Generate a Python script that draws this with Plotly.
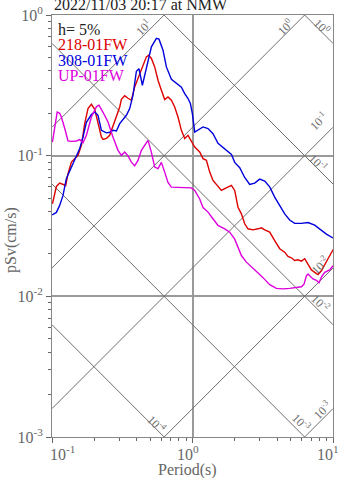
import numpy as np
import plotly.graph_objects as go

# ---- response spectra (period in s, pseudo velocity in cm/s) ----
red_period = [0.1007, 0.1075, 0.1134, 0.1198, 0.1252, 0.130, 0.1374, 0.1451, 0.1531, 0.162,
              0.1709, 0.1804, 0.1907, 0.2013, 0.2125, 0.2247, 0.2307, 0.2439, 0.2575, 0.2718,
              0.2874, 0.3034, 0.3119, 0.3292, 0.3474, 0.3673, 0.3877, 0.4093, 0.4442, 0.4696,
              0.4878, 0.5099, 0.5383, 0.5681, 0.6006, 0.634, 0.6692, 0.7075, 0.7468, 0.7883,
              0.8337, 0.880, 0.929, 0.982, 1.037, 1.125, 1.188, 1.256, 1.326, 1.399,
              1.519, 1.606, 1.695, 1.789, 1.892, 1.997, 2.108, 2.229, 2.352, 2.483,
              2.695, 2.925, 3.093, 3.265, 3.544, 3.846, 4.175, 4.532, 4.783, 5.057,
              5.339, 5.635, 5.958, 6.29, 6.637, 7.019, 7.409, 7.819, 8.266, 8.728,
              9.213, 9.90, 10.0]
red_sv = [0.0455, 0.0604, 0.0638, 0.0625, 0.0614, 0.0744, 0.0900, 0.0952, 0.1005, 0.1184,
          0.169, 0.2162, 0.2319, 0.2137, 0.169, 0.1357, 0.1306, 0.1328, 0.1395, 0.1643,
          0.1883, 0.2219, 0.2518, 0.2667, 0.2559, 0.2476, 0.308, 0.3535, 0.4277, 0.504,
          0.518, 0.4908, 0.4277, 0.3439, 0.2918, 0.2505, 0.2615, 0.2476, 0.2219, 0.1883,
          0.1514, 0.1322, 0.1395, 0.125, 0.1151, 0.1064, 0.0952, 0.0926, 0.0764, 0.0667,
          0.0598, 0.0566, 0.0582, 0.0598, 0.0614, 0.0566, 0.0430, 0.0386, 0.0328, 0.0302,
          0.0297, 0.0302, 0.0307, 0.0297, 0.0286, 0.0249, 0.0218, 0.0206, 0.0192, 0.0188,
          0.0180, 0.0182, 0.0178, 0.0185, 0.0170, 0.0154, 0.0148, 0.0143, 0.0152, 0.0170,
          0.0185, 0.0210, 0.0215]

blue_period = [0.1003, 0.1075, 0.1134, 0.1198, 0.1266, 0.1374, 0.1492, 0.1575, 0.1662, 0.1757,
               0.1907, 0.2013, 0.2125, 0.2247, 0.2439, 0.2575, 0.2718, 0.2874, 0.3034, 0.3202,
               0.3384, 0.3573, 0.3771, 0.3987, 0.416, 0.4398, 0.4696, 0.5099, 0.5535, 0.5775,
               0.6166, 0.6519, 0.7075, 0.7679, 0.8337, 0.880, 0.929, 0.966, 0.998, 1.037,
               1.094, 1.188, 1.290, 1.399, 1.519, 1.648, 1.789, 1.892, 1.997, 2.168,
               2.352, 2.553, 2.771, 3.008, 3.265, 3.544, 3.846, 4.175, 4.532, 4.918,
               5.339, 5.958, 6.637, 7.409, 8.266, 8.974, 10.0]
blue_sv = [0.0379, 0.0395, 0.0443, 0.0522, 0.0689, 0.0829, 0.0977, 0.1122, 0.1357, 0.1726,
           0.1959, 0.2044, 0.1936, 0.1514, 0.1453, 0.1466, 0.1514, 0.1497, 0.169, 0.1799,
           0.1936, 0.2162, 0.2689, 0.3984, 0.415, 0.3167, 0.4277, 0.5935, 0.6814, 0.6736,
           0.5623, 0.4277, 0.3496, 0.3257, 0.3066, 0.2765, 0.2547, 0.2346, 0.1991, 0.1473,
           0.1514, 0.16, 0.1557, 0.1434, 0.1224, 0.114, 0.1078, 0.1022, 0.0896, 0.0821,
           0.07, 0.0625, 0.0638, 0.0681, 0.0659, 0.06, 0.0507, 0.0443, 0.0386, 0.0349,
           0.033, 0.033, 0.0335, 0.0321, 0.0296, 0.0277, 0.026]

up_period = [0.1007, 0.1045, 0.1089, 0.1134, 0.1166, 0.1231, 0.130, 0.1374, 0.1492, 0.1575,
             0.1662, 0.1757, 0.1907, 0.207, 0.216, 0.2307, 0.2504, 0.2718, 0.295, 0.3119,
             0.3292, 0.3474, 0.3673, 0.3877, 0.4093, 0.4327, 0.4696, 0.4822, 0.5099, 0.5383,
             0.5681, 0.6006, 0.634, 0.6692, 0.7075, 0.7883, 0.9049, 0.982, 1.037, 1.125,
             1.188, 1.290, 1.399, 1.519, 1.695, 1.840, 1.997, 2.108, 2.229, 2.418,
             2.625, 2.849, 3.008, 3.265, 3.544, 3.955, 4.407, 4.918, 5.489, 5.958,
             6.218, 6.467, 6.637, 6.826, 7.206, 7.618, 7.948, 8.266, 8.728, 9.475, 10.0]
up_sv = [0.125, 0.1565, 0.2044, 0.2001, 0.1883, 0.1565, 0.1274, 0.1264, 0.1271, 0.13,
         0.1234, 0.1395, 0.1883, 0.2226, 0.2282, 0.2034, 0.1735, 0.135, 0.1091, 0.1005,
         0.1061, 0.0997, 0.09, 0.0846, 0.0926, 0.1091, 0.125, 0.1285, 0.1055, 0.0829,
         0.0808, 0.0896, 0.0764, 0.0645, 0.0598, 0.0594, 0.059, 0.059, 0.0566, 0.0492,
         0.0428, 0.0397, 0.0356, 0.0319, 0.0302, 0.0286, 0.0255, 0.0223, 0.0195, 0.0175,
         0.0163, 0.0152, 0.0143, 0.0132, 0.0121, 0.0114, 0.0113, 0.0114, 0.0116, 0.0117,
         0.0122, 0.014, 0.0144, 0.014, 0.0133, 0.013, 0.0125, 0.0137, 0.0148, 0.0154, 0.0165]

series_names = ["218-01FW", "308-01FW", "UP-01FW"]
series_colors = ["#dd0000", "#0000dd", "#dd00dd"]

# tripartite guide levels: acceleration (cm/s^2) and displacement (cm)
accel_levels = [1e1, 1e0, 1e-1, 1e-2, 1e-3]
disp_levels = [1e0, 1e-1, 1e-2, 1e-3, 1e-4]

x_major = [0.1, 1.0, 10.0]
y_major = [0.001, 0.01, 0.1, 1.0]

title_text = "2022/11/03 20:17 at NMW"
damping_text = "h= 5%"

T_MIN, T_MAX = 0.1, 10.0
SV_MIN, SV_MAX = 1e-3, 1.0

FONT = "Liberation Serif, Times New Roman, serif"
GRID = "#9a9a9a"
GUIDE = "#6e6e6e"
TEXT_GRAY = "#666666"

PLOT_W, PLOT_H = 281, 422  # plot-area size in px (used for paper offsets)

fig = go.Figure()

two_pi = 2 * np.pi
t_ends = np.array([T_MIN, T_MAX])
lg2pi = np.log10(two_pi)


def sup_label(v):
    e = int(round(np.log10(v)))
    return f"10<sup>{e}</sup>"


# constant-acceleration lines: Sv = A*T/(2*pi)
for a in accel_levels:
    fig.add_trace(go.Scatter(x=t_ends, y=a * t_ends / two_pi, mode="lines",
                             line=dict(color=GUIDE, width=1), hoverinfo="skip",
                             showlegend=False))
# constant-displacement lines: Sv = 2*pi*D/T
for d in disp_levels:
    fig.add_trace(go.Scatter(x=t_ends, y=two_pi * d / t_ends, mode="lines",
                             line=dict(color=GUIDE, width=1), hoverinfo="skip",
                             showlegend=False))

# spectra
for per, sv, nm, col in zip([red_period, blue_period, up_period],
                            [red_sv, blue_sv, up_sv], series_names, series_colors):
    fig.add_trace(go.Scatter(x=per, y=sv, mode="lines", name=nm,
                             line=dict(color=col, width=1.4), showlegend=False))

annotations = []

# guide labels, placed near where each line leaves the frame
lx0, lx1 = np.log10(T_MIN), np.log10(T_MAX)
ly0, ly1 = np.log10(SV_MIN), np.log10(SV_MAX)
accel_shift = [(-21, -12), (-20, -12), (-15, 6), (-13, 2), (-11, -2)]
disp_shift = [(-11, 17), (-15, 22), (-13, 22), (-3, 15), (-7, 13)]
for a, (dx, dy) in zip(accel_levels, accel_shift):
    la = np.log10(a)
    xe = min(lx1, ly1 - la + lg2pi)
    ye = la + xe - lg2pi
    annotations.append(dict(x=xe, y=ye, xref="x", yref="y", text=sup_label(a),
                            showarrow=False, textangle=-45, xshift=dx, yshift=dy,
                            font=dict(family=FONT, size=12, color=GUIDE)))
for d, (dx, dy) in zip(disp_levels, disp_shift):
    ld = np.log10(d)
    ye = ld + lg2pi - lx1
    xe = lx1
    if ye < ly0:
        ye = ly0
        xe = ld + lg2pi - ly0
    annotations.append(dict(x=xe, y=ye, xref="x", yref="y", text=sup_label(d),
                            showarrow=False, textangle=45, xshift=dx, yshift=dy,
                            font=dict(family=FONT, size=12, color=GUIDE)))

# period tick labels (drawn as text so each can sit slightly off its tick)
x_label_shift = [10, -5, -5]
for v, dx in zip(x_major, x_label_shift):
    annotations.append(dict(x=np.log10(v), y=0, xref="x", yref="paper", text=sup_label(v),
                            showarrow=False, xanchor="center", yanchor="middle",
                            xshift=dx, yshift=-16,
                            font=dict(family=FONT, size=16, color=TEXT_GRAY)))

# title and in-plot legend text
annotations.append(dict(x=0.0, y=1.0, xref="paper", yref="paper", xanchor="left",
                        yanchor="middle", yshift=11, text=title_text, showarrow=False,
                        font=dict(family=FONT, size=16, color="#222222")))
legend_rows = [(damping_text, "#222222")] + list(zip(series_names, series_colors))
for i, (txt, col) in enumerate(legend_rows):
    annotations.append(dict(x=4 / PLOT_W, y=1 - (14 + 15.5 * i) / PLOT_H, xref="paper",
                            yref="paper", xanchor="left", yanchor="middle", text=txt,
                            showarrow=False,
                            font=dict(family=FONT, size=16, color=col)))

# axis titles
annotations.append(dict(x=-41 / PLOT_W, y=1 - 225 / PLOT_H, xref="paper", yref="paper",
                        text="pSv(cm/s)", textangle=-90, showarrow=False,
                        xanchor="center", yanchor="middle",
                        font=dict(family=FONT, size=16, color=TEXT_GRAY)))
annotations.append(dict(x=-5 / PLOT_W + 0.5, y=-33 / PLOT_H, xref="paper", yref="paper",
                        text="Period(s)", showarrow=False, xanchor="center",
                        yanchor="middle",
                        font=dict(family=FONT, size=16, color=TEXT_GRAY)))

x_minor = [m * 10.0 ** e for e in (-1, 0) for m in range(2, 10)]
y_minor = [m * 10.0 ** e for e in (-3, -2, -1) for m in range(2, 10)]

common_axis = dict(
    type="log", tickmode="array", ticks="outside", ticklen=5, tickcolor=TEXT_GRAY,
    showgrid=True, gridcolor=GRID, gridwidth=1.5, showline=True, mirror=True,
    linecolor="#888888", linewidth=1, zeroline=False, automargin=False,
    tickfont=dict(family=FONT, size=16, color=TEXT_GRAY),
)

fig.update_layout(
    width=347, height=478,
    margin=dict(l=52, r=14, t=15, b=41, pad=0),
    paper_bgcolor="white", plot_bgcolor="white",
    showlegend=False,
    annotations=annotations,
    xaxis=dict(common_axis, range=[lx0, lx1], tickvals=x_major,
               ticktext=[sup_label(v) for v in x_major], showticklabels=False,
               minor=dict(tickmode="array", tickvals=x_minor, ticks="outside",
                          ticklen=3, tickcolor=TEXT_GRAY, showgrid=False)),
    yaxis=dict(common_axis, range=[ly0, ly1], tickvals=y_major,
               ticktext=[sup_label(v) for v in y_major],
               minor=dict(tickmode="array", tickvals=y_minor, ticks="outside",
                          ticklen=3, tickcolor=TEXT_GRAY, showgrid=False)),
)

fig.write_html("out.html")
